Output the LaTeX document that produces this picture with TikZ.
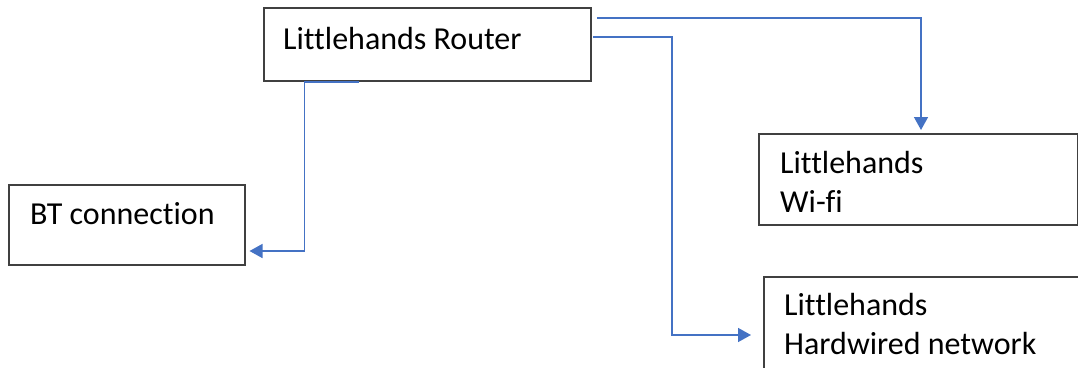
\documentclass[tikz,border=0pt]{standalone}
\usepackage{fontspec}
\setmainfont[Ligatures=NoCommon]{Carlito}
\usetikzlibrary{arrows.meta}
\definecolor{boxline}{HTML}{404040}
\definecolor{connblue}{HTML}{4472C4}
\begin{document}
\begin{tikzpicture}[x=1pt,y=1pt,
  box/.style={draw=boxline, line width=1.5pt, anchor=north west, inner sep=0pt, fill=white},
  lbl/.style={anchor=base west, inner sep=0pt, align=left, font=\fontsize{32}{39}\selectfont},
  link/.style={draw=connblue, line width=1.5pt, -{Triangle[width=14pt,length=13pt]}}]
\useasboundingbox (0,0) rectangle (1078,-367);
\clip (0,0) rectangle (1078,-367);
\node[box, minimum width=327pt, minimum height=73pt] (router) at (263,-7) {};
\node[box, minimum width=236pt, minimum height=80pt] (bt) at (8,-184) {};
\node[box, minimum width=319pt, minimum height=91pt] (wifi) at (758,-133) {};
\node[box, minimum width=340pt, minimum height=120pt] (hw) at (763,-276) {};
\node[lbl] (routerlbl) at (283,-49) {Littlehands Router};
\node[lbl] (btlbl) at (30,-224) {BT connection};
\node[lbl] (wifilbl) at (780,-212) {Littlehands\\Wi-fi};
\node[lbl] (hwlbl) at (784,-354) {Littlehands\\Hardwired network};
\coordinate (s1) at (597,-18);
\coordinate (s2) at (593,-37);
\coordinate (s3) at (359,-82);
\draw[link] (s1) -| ([xshift=163pt,yshift=3pt]wifi.north west);
\draw[link] (s2) -| ([xshift=-91pt,yshift=-59pt]hw.north west) -- ([xshift=-12pt,yshift=-59pt]hw.north west);
\draw[link] (s3) -| ([xshift=59pt,yshift=-67pt]bt.north east) -- ([xshift=4pt,yshift=-67pt]bt.north east);
\end{tikzpicture}
\end{document}
